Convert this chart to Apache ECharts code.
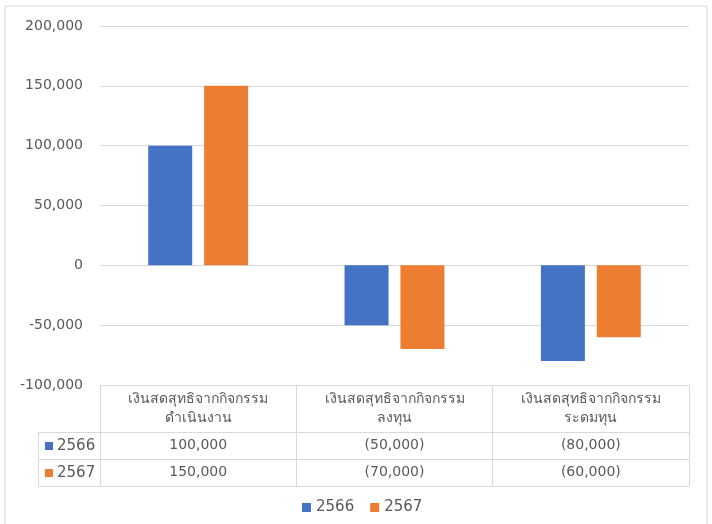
<!DOCTYPE html>
<html>
<head>
<meta charset="utf-8">
<script src="https://cdn.jsdelivr.net/npm/echarts@6/dist/echarts.min.js"></script>
<style>
  html, body { margin: 0; padding: 0; background: #fff; }
  #chart { width: 712px; height: 524px; }
</style>
</head>
<body>
<div id="chart"></div>
<script>
// ข้อมูล
var categories = ['เงินสดสุทธิจากกิจกรรม\nดำเนินงาน', 'เงินสดสุทธิจากกิจกรรม\nลงทุน', 'เงินสดสุทธิจากกิจกรรม\nระดมทุน'];
var seriesNames = ['2566', '2567'];
var values2566 = [100000, -50000, -80000];
var values2567 = [150000, -70000, -60000];
var colors = ['#4472C4', '#ED7D31'];

var font = "'DejaVu Sans', Tahoma, sans-serif";
var textColor = '#595959';
var lineColor = '#D9D9D9';

function fmt(v) {
    var s = Math.abs(v).toString().replace(/\B(?=(\d{3})+(?!\d))/g, ',');
    return v < 0 ? '(' + s + ')' : s;
}

var myChart = echarts.init(document.getElementById('chart'));

var rowAxis = function (vals, offset) {
    return {
        type: 'category',
        gridIndex: 0,
        position: 'bottom',
        offset: offset,
        data: categories,
        axisLine: {show: false, onZero: false},
        axisTick: {show: false},
        splitLine: {show: false},
        axisLabel: {
            interval: 0,
            margin: 6,
            color: textColor,
            fontFamily: font,
            fontSize: 14,
            formatter: function (v, i) { return fmt(vals[i]); }
        }
    };
};

var option = {
    animation: false,
    color: colors,
    grid: {left: 100, right: 23, top: 26, bottom: 139, containLabel: false},
    legend: {
        bottom: 4,
        left: 297,
        icon: 'rect',
        itemWidth: 9,
        itemHeight: 9,
        itemGap: 16,
        textStyle: {color: textColor, fontFamily: font, fontSize: 15},
        data: seriesNames
    },
    xAxis: [
        {
            type: 'category',
            data: categories,
            position: 'bottom',
            axisLine: {show: false, onZero: false},
            axisTick: {show: true, interval: 0, length: 101, lineStyle: {color: lineColor}},
            splitLine: {show: false},
            axisLabel: {
                interval: 0,
                margin: 5,
                color: textColor,
                fontFamily: font,
                fontSize: 14,
                lineHeight: 19
            }
        },
        rowAxis(values2566, 47),
        rowAxis(values2567, 74)
    ],
    yAxis: {
        type: 'value',
        min: -100000,
        max: 200000,
        interval: 50000,
        axisLine: {show: false},
        axisTick: {show: false},
        splitLine: {lineStyle: {color: lineColor, width: 1}},
        axisLabel: {
            margin: 17,
            color: textColor,
            fontFamily: font,
            fontSize: 14,
            formatter: function (v) {
                return v.toString().replace(/\B(?=(\d{3})+(?!\d))/g, ',');
            }
        }
    },
    series: [
        {name: seriesNames[0], type: 'bar', data: values2566, barWidth: 44, barGap: '27%'},
        {name: seriesNames[1], type: 'bar', data: values2567, barWidth: 44}
    ],
    graphic: [
        // กรอบนอก
        {type: 'rect', shape: {x: 5, y: 6, width: 702, height: 530}, style: {fill: null, stroke: lineColor, lineWidth: 1}, silent: true},
        // เส้นตาราง
        {type: 'line', shape: {x1: 38, y1: 432.5, x2: 689, y2: 432.5}, style: {stroke: lineColor}},
        {type: 'line', shape: {x1: 38, y1: 459.5, x2: 689, y2: 459.5}, style: {stroke: lineColor}},
        {type: 'line', shape: {x1: 38, y1: 486.5, x2: 689, y2: 486.5}, style: {stroke: lineColor}},
        {type: 'line', shape: {x1: 38.5, y1: 432, x2: 38.5, y2: 487}, style: {stroke: lineColor}},
        // คีย์ในตาราง
        {type: 'rect', shape: {x: 45, y: 442, width: 8, height: 8}, style: {fill: colors[0]}},
        {type: 'text', x: 57, y: 446.5, style: {text: seriesNames[0], fill: textColor, font: '15px ' + font, verticalAlign: 'middle'}},
        {type: 'rect', shape: {x: 45, y: 469, width: 8, height: 8}, style: {fill: colors[1]}},
        {type: 'text', x: 57, y: 473.5, style: {text: seriesNames[1], fill: textColor, font: '15px ' + font, verticalAlign: 'middle'}}
    ]
};

myChart.setOption(option);
</script>
</body>
</html>
